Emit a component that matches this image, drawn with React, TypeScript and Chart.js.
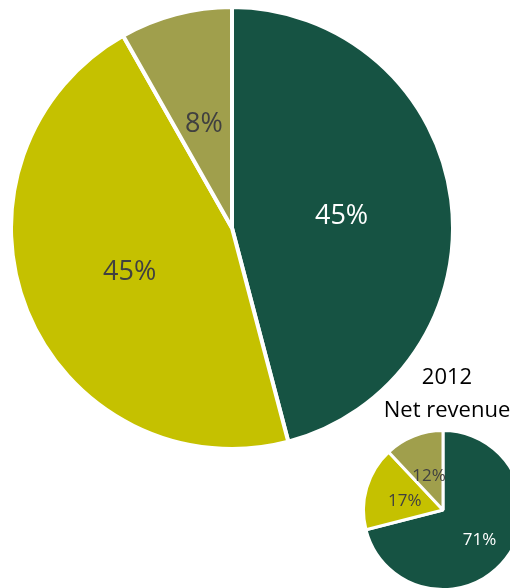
import React, { useEffect, useRef } from "react";
import { Chart, registerables } from "chart.js";

Chart.register(...registerables);

const bigCategories = ["Segment A", "Segment B", "Segment C"];
const bigValues = [45.9, 45.9, 8.2];
const bigLabels = ["45%", "45%", "8%"];

const smallTitle = ["2012", "Net revenue"];
const smallCategories = ["Segment A", "Segment B", "Segment C"];
const smallValues = [71, 17, 12];
const smallLabels = ["71%", "17%", "12%"];

const colors = ["#165343", "#C5C100", "#A09F4C"];
const labelColors = ["#FFFFFF", "#404040", "#404040"];

const FONT = "'Open Sans', 'Noto Sans', sans-serif";

const sliceLabels = {
  id: "sliceLabels",
  afterDatasetsDraw(chart: any, _args: any, opts: any) {
    const { ctx } = chart;
    const meta = chart.getDatasetMeta(0);
    const texts: string[] = opts.texts || [];
    const fracs: number[] = opts.fracs || [];
    ctx.save();
    ctx.font = `${opts.size}px ${FONT}`;
    ctx.textAlign = "center";
    ctx.textBaseline = "middle";
    meta.data.forEach((arc: any, i: number) => {
      const p = arc.getProps(["x", "y", "startAngle", "endAngle", "outerRadius"], true);
      const mid = (p.startAngle + p.endAngle) / 2;
      const r = p.outerRadius * (fracs[i] ?? 0.5);
      ctx.fillStyle = labelColors[i];
      ctx.fillText(texts[i], p.x + Math.cos(mid) * r, p.y + Math.sin(mid) * r + (opts.dy || 0));
    });
    ctx.restore();
  },
};

const shiftedTitle = {
  id: "shiftedTitle",
  afterDraw(chart: any, _args: any, opts: any) {
    const lines: string[] = opts.lines || [];
    if (!lines.length) return;
    const { ctx, width } = chart;
    ctx.save();
    ctx.font = `${opts.size}px ${FONT}`;
    ctx.fillStyle = "#000000";
    ctx.textAlign = "center";
    ctx.textBaseline = "middle";
    lines.forEach((t, i) => {
      ctx.fillText(t, width / 2 + opts.dx, opts.top + opts.lineHeight * (i + 0.5));
    });
    ctx.restore();
  },
};

function PieCanvas(props: {
  style: React.CSSProperties;
  width: number;
  height: number;
  categories: string[];
  values: number[];
  texts: string[];
  fracs: number[];
  size: number;
  border: number;
  labelDy: number;
  title?: string[];
  titleSpace?: number;
}) {
  const ref = useRef<HTMLCanvasElement | null>(null);
  useEffect(() => {
    if (!ref.current) return;
    const chart = new Chart(ref.current, {
      type: "pie",
      data: {
        labels: props.categories,
        datasets: [
          {
            data: props.values,
            backgroundColor: colors,
            borderColor: "#FFFFFF",
            borderWidth: props.border,
          },
        ],
      },
      options: {
        responsive: false,
        animation: false,
        layout: { padding: { top: props.titleSpace || 0, left: 0, right: 0, bottom: 0 } },
        plugins: {
          legend: { display: false },
          tooltip: { enabled: false },
          title: { display: false },
          sliceLabels: { texts: props.texts, fracs: props.fracs, size: props.size, dy: props.labelDy },
          shiftedTitle: { lines: props.title || [], size: 22, lineHeight: 33, top: 0, dx: 4 },
        } as any,
      },
      plugins: [sliceLabels, shiftedTitle],
    });
    return () => chart.destroy();
  }, []);
  return (
    <canvas
      ref={ref}
      width={props.width}
      height={props.height}
      style={{ position: "absolute", width: props.width, height: props.height, ...props.style }}
    />
  );
}

export default function App() {
  return (
    <div
      style={{
        position: "fixed",
        left: 0,
        top: 0,
        width: 510,
        height: 588,
        overflow: "hidden",
        background: "#FFFFFF",
      }}
    >
      <PieCanvas
        style={{ left: 9, top: 5 }}
        width={446}
        height={446}
        categories={bigCategories}
        values={bigValues}
        texts={bigLabels}
        fracs={[0.5, 0.5, 0.5]}
        size={27}
        border={4}
        labelDy={3}
      />
      <PieCanvas
        style={{ left: 353, top: 361 }}
        width={180}
        height={230}
        categories={smallCategories}
        values={smallValues}
        texts={smallLabels}
        fracs={[0.58, 0.5, 0.48]}
        size={17}
        border={3}
        labelDy={2}
        title={smallTitle}
        titleSpace={68}
      />
    </div>
  );
}
